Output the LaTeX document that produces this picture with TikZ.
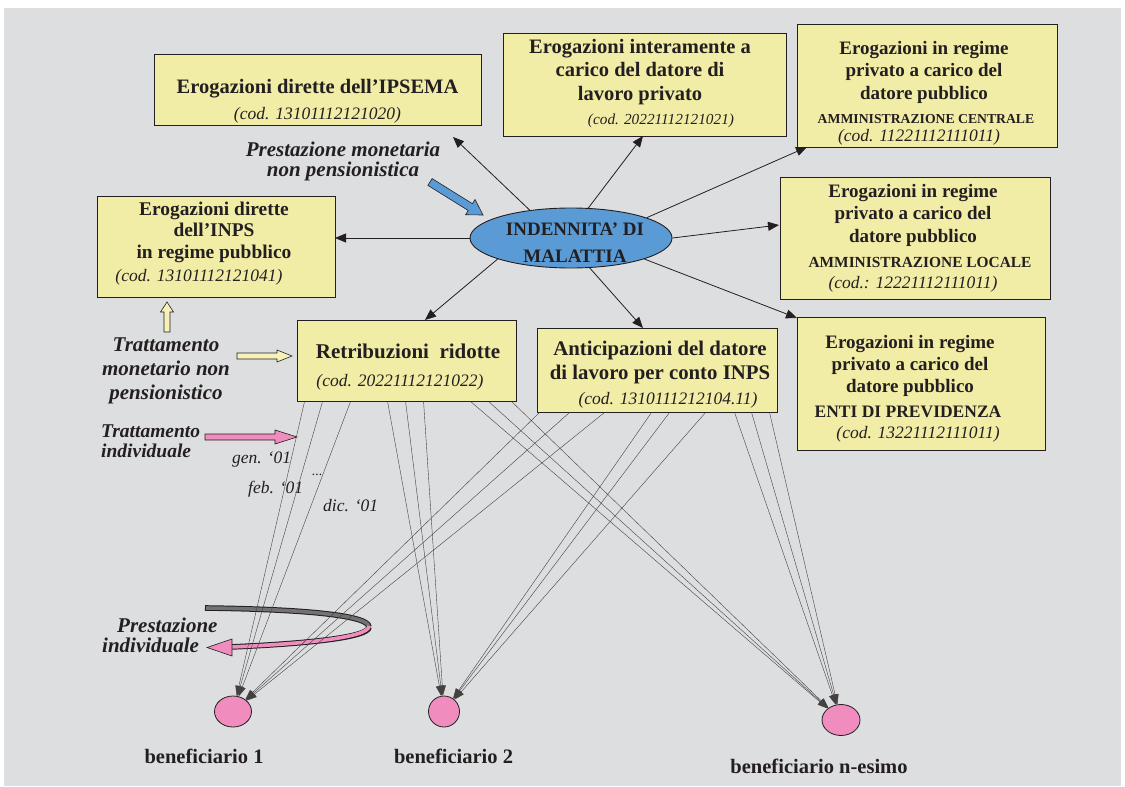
\documentclass[tikz,border=0pt]{standalone}
\usepackage{fontspec}
\setmainfont{Liberation Serif}
\usetikzlibrary{arrows.meta,calc,shapes.geometric}
\definecolor{bg}{HTML}{DDDEE0}
\definecolor{boxy}{HTML}{F2EDA6}
\definecolor{ellblue}{HTML}{5B9BD5}
\definecolor{pinkb}{HTML}{F08CBE}
\definecolor{bandgray}{HTML}{727272}
\definecolor{ink}{HTML}{231F20}
\newcommand{\blockarr}[8]{%
  \draw[fill=#1, draw=ink, line width=0.6pt, shift={(#2,#3)}, rotate=#4]
    (0,-#6) -- ({#5-#8},-#6) -- ({#5-#8},-#7) -- (#5,0) -- ({#5-#8},#7) -- ({#5-#8},#6) -- (0,#6) -- cycle;}
\tikzset{
  box/.style={draw=ink, line width=0.9pt, fill=boxy, inner sep=0pt},
  ttl/.style={text=ink, inner sep=0pt, anchor=base, align=center, font={\fontsize{#1}{#1}\selectfont\bfseries}},
  ttl/.default=20,
  code/.style={text=ink, inner sep=0pt, anchor=base, font={\fontsize{#1}{#1}\selectfont\itshape}},
  code/.default=17.5,
  note/.style={text=ink, inner sep=0pt, anchor=base, align=center, font={\fontsize{#1}{#1}\selectfont\bfseries\itshape}},
  conn/.style={draw=ink, line width=0.8pt, -{Triangle[length=11pt,width=9pt]}},
  ben/.style={draw=ink!85, line width=0.4pt, -{Triangle[length=10pt,width=7pt]}},
  benef/.style={draw=ink, line width=0.8pt, fill=pinkb, ellipse, inner sep=0pt},
}
\begin{document}
\begin{tikzpicture}[x=1pt,y=-1pt]
\useasboundingbox (0,0) rectangle (1125,787);
\fill[bg] (4,8) rectangle (1121,786);

% boxes
\node[box, minimum width=327pt, minimum height=71pt] (ipsema) at (317.5,89.5) {};
\node[box, minimum width=283pt, minimum height=103pt] (inter) at (644.5,84.5) {};
\node[box, minimum width=260pt, minimum height=123pt] (centr) at (927,85.5) {};
\node[box, minimum width=270pt, minimum height=122pt] (locale) at (915,238) {};
\node[box, minimum width=248pt, minimum height=133pt] (enti) at (921,383.5) {};
\node[box, minimum width=238pt, minimum height=101pt] (inps) at (216,246.5) {};
\node[box, minimum width=219pt, minimum height=81pt] (retrib) at (406.5,360.5) {};
\node[box, minimum width=240pt, minimum height=84pt] (antic) at (657,370) {};

% box texts (base anchor = baseline of the last line)
\node[ttl=20.5] (ipsemaT) at (317.5,93) {Erogazioni dirette dell’IPSEMA};
\node[code] (ipsemaC) at (317.5,119) {(cod. 13101112121020)};

\node[ttl=20.5, font={\fontsize{20.5}{23.5}\selectfont\bfseries}] (interT) at (640,100) {Erogazioni interamente a\\carico del datore di\\lavoro privato};
\node[code=15.3] (interC) at (661,124) {(cod. 20221112121021)};

\node[ttl, font={\fontsize{19}{22.5}\selectfont\bfseries}] (centrT) at (924,99) {Erogazioni in regime\\privato a carico del\\datore pubblico};
\node[ttl] [font={\fontsize{13.7}{14}\selectfont\bfseries}] (centrA) at (926,123) {AMMINISTRAZIONE CENTRALE};
\node[code] (centrC) at (919,141) {(cod. 11221112111011)};

\node[ttl, font={\fontsize{19}{22.5}\selectfont\bfseries}] (localeT) at (913,242) {Erogazioni in regime\\privato a carico del\\datore pubblico};
\node[ttl] [font={\fontsize{15.4}{16}\selectfont\bfseries}] (localeA) at (920,267) {AMMINISTRAZIONE LOCALE};
\node[code] (localeC) at (913,288) {(cod.: 12221112111011)};

\node[ttl, font={\fontsize{19}{22}\selectfont\bfseries}] (entiT) at (910,392) {Erogazioni in regime\\privato a carico del\\datore pubblico};
\node[ttl] [font={\fontsize{17.5}{18}\selectfont\bfseries}] (entiA) at (908,417) {ENTI DI PREVIDENZA};
\node[code] (entiC) at (918,438) {(cod. 13221112111011)};

\node[ttl, font={\fontsize{19.4}{21.5}\selectfont\bfseries}] (inpsT) at (214,258) {Erogazioni dirette\\dell’INPS\\in regime pubblico};
\node[code] (inpsC) at (199,281) {(cod. 13101112121041)};

\node[ttl=21] (retribT) at (408,358) {Retribuzioni~~ridotte};
\node[code] (retribC) at (400,386) {(cod. 20221112121022)};

\node[ttl, font={\fontsize{20.8}{24}\selectfont\bfseries}] (anticT) at (660,379) {Anticipazioni del datore\\di lavoro per conto INPS};
\node[code] (anticC) at (668,404) {(cod. 1310111212104.11)};

% central ellipse
\node[ellipse, draw=ink, line width=0.9pt, fill=ellblue, minimum width=202pt, minimum height=60pt, inner sep=0pt] (ell) at (571,238) {};
\node[ttl, font={\fontsize{19}{27}\selectfont\bfseries}] (ellT) at (575,262) {INDENNITA’ DI\\MALATTIA};

% arrow end coordinates
\coordinate (aIps) at (453,137);
\coordinate (aInt) at (643,136);
\coordinate (aCen) at (807,147);
\coordinate (aLoc) at (779,225);
\coordinate (aEnt) at (797,318);
\coordinate (aInps) at (335,238);
\coordinate (aRet) at (425,320);
\coordinate (aAnt) at (643,328);

\draw[conn] (ell.146) -- (aIps);
\draw[conn] (ell.60) -- (aInt);
\draw[conn] (ell.15) -- (aCen);
\draw[conn] (ell.0) -- (aLoc);
\draw[conn] (ell.-16) -- (aEnt);
\draw[conn] (ell.180) -- (aInps);
\draw[conn] (ell.196) -- (aRet);
\draw[conn] (ell.-58) -- (aAnt);

% annotations
\node[note=21, font={\fontsize{21}{20}\selectfont\bfseries\itshape}] (prestMon) at (343,176) {Prestazione monetaria\\non pensionistica};
\blockarr{ellblue}{430}{182}{-31.9}{62.5}{4}{9}{15}

\blockarr{boxy!80!white}{167}{332}{90}{30}{3}{6.5}{10}
\node[note=21, font={\fontsize{21}{24}\selectfont\bfseries\itshape}] (trattMon) at (166,399) {Trattamento\\monetario non\\pensionistico};
\blockarr{boxy!80!white}{237}{356}{0}{55}{3}{6}{15}

\node[note=19.5, font={\fontsize{19.5}{20}\selectfont\bfseries\itshape}, align=left, anchor=base west] (trattInd) at (101,457) {Trattamento\\individuale};
\blockarr{pinkb}{205}{437}{0}{92}{3}{7}{22}

\node[code] (gen) [anchor=base west] at (232,463) {gen. ‘01};
\node[code=14] (dots) [anchor=base west] at (312,475) {...};
\node[code] (feb) [anchor=base west] at (248,493) {feb. ‘01};
\node[code] (dic) [anchor=base west] at (323,511) {dic. ‘01};

% spiral
\draw[ink, line width=5.6pt] (205,608) .. controls (290,609) and (369,614) .. (369,627);
\draw[bandgray, line width=3.6pt] (206,608) .. controls (290,609) and (369,614) .. (369,627);
\draw[ink, line width=5.6pt] (369,627) .. controls (369,638) and (300,644) .. (230,647);
\draw[pinkb, line width=3.6pt] (369,626) .. controls (369,638) and (300,644) .. (231,647);
\draw[fill=pinkb, draw=ink, line width=0.6pt] (232,639) -- (207,647.5) -- (232,656) -- cycle;
\node[note=21] (prest1) [anchor=base west] at (117,632) {Prestazione};
\node[note=21] (prest2) [anchor=base west] at (102,652) {individuale};

% beneficiaries
\node[benef, minimum width=37pt, minimum height=31pt] (b1) at (233,711.5) {};
\node[benef, minimum width=31pt, minimum height=31pt] (b2) at (444,711.5) {};
\node[benef, minimum width=38pt, minimum height=31pt] (bn) at (841,720) {};
\node[ttl=20.5] (b1L) at (204,763) {beneficiario 1};
\node[ttl=20.5] (b2L) at (453.5,763) {beneficiario 2};
\node[ttl=20.5] (bnL) at (819,773) {beneficiario n-esimo};

% flows
\foreach \dx in {8,26,54} \draw[ben] ([xshift=\dx pt]retrib.south west) -- (b1);
\foreach \dx in {91,109,127} \draw[ben] ([xshift=\dx pt]retrib.south west) -- (b2);
\foreach \dx in {174,192,215} \draw[ben] ([xshift=\dx pt]retrib.south west) -- (bn);
\foreach \dx in {3,33,68} \draw[ben] ([xshift=\dx pt]antic.south west) -- (b1);
\foreach \dx in {115,133,169} \draw[ben] ([xshift=\dx pt]antic.south west) -- (b2);
\foreach \dx in {198,215,233} \draw[ben] ([xshift=\dx pt]antic.south west) -- (bn);
\end{tikzpicture}
\end{document}
